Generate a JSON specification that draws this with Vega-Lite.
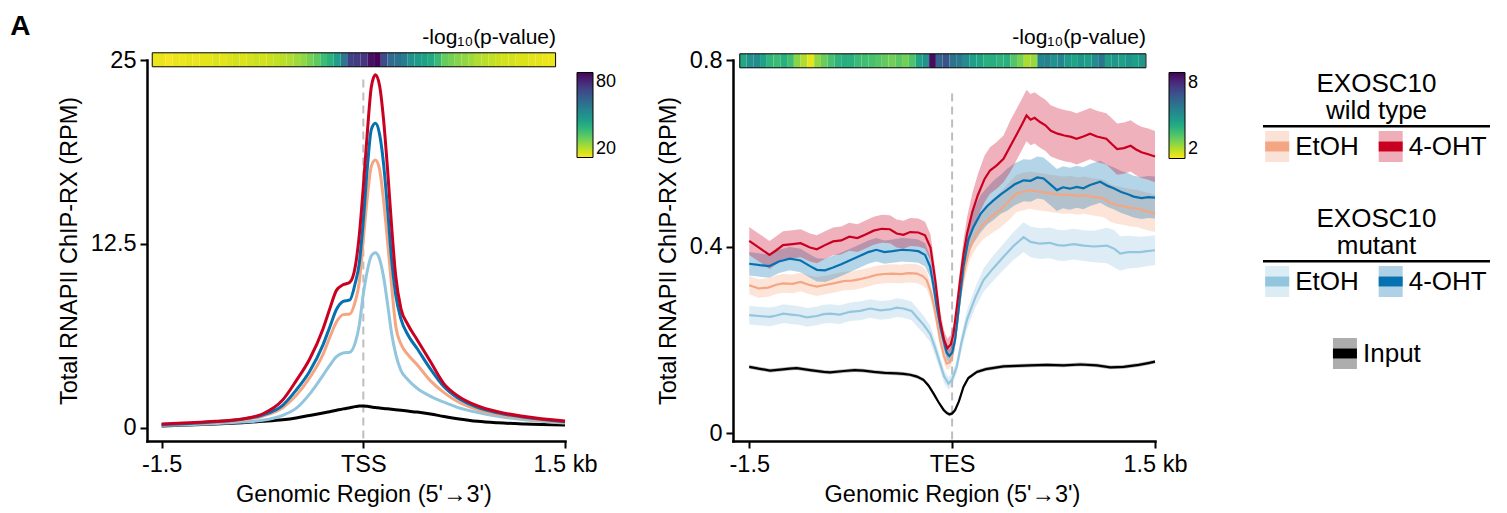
{
"$schema": "https://vega.github.io/schema/vega-lite/v6.json",
"background": "white",
"padding": {"left": 10, "top": 12, "right": 5, "bottom": 5},
"title": {"text": "A", "anchor": "start", "frame": "bounds", "fontSize": 28, "fontWeight": "bold", "dx": -47, "offset": -13.5, "color": "#000"},
"config": {
  "font": "Liberation Sans",
  "view": {"stroke": null},
  "axis": {"domainColor": "#000", "domainWidth": 2.5, "domainCap": "square", "tickColor": "#000", "tickWidth": 2, "tickSize": 7, "labelColor": "#000", "labelFontSize": 23.5, "titleColor": "#000", "titleFontSize": 23.5, "titleFontWeight": "normal", "grid": false, "labelPadding": 4, "titlePadding": 7, "labelFlush": false},
  "axisY": {"titlePadding": 9},
  "legend": {"labelColor": "#000", "labelFontSize": 18, "gradientStrokeColor": "#000", "gradientStrokeWidth": 1},
  "title": {"color": "#000", "fontWeight": "normal"},
  "text": {"color": "#000"}
},
"datasets": {
  "heatL": [
    {"start":-1.57,"end":-1.52,"p":14},{"start":-1.52,"end":-1.47,"p":14},{"start":-1.47,"end":-1.42,"p":13},{"start":-1.42,"end":-1.37,"p":14},{"start":-1.37,"end":-1.32,"p":14},
    {"start":-1.32,"end":-1.27,"p":15},{"start":-1.27,"end":-1.22,"p":14},{"start":-1.22,"end":-1.17,"p":15},{"start":-1.17,"end":-1.12,"p":15},{"start":-1.12,"end":-1.07,"p":16},
    {"start":-1.07,"end":-1.02,"p":15},{"start":-1.02,"end":-0.97,"p":16},{"start":-0.97,"end":-0.92,"p":17},{"start":-0.92,"end":-0.87,"p":16},{"start":-0.87,"end":-0.82,"p":17},
    {"start":-0.82,"end":-0.77,"p":18},{"start":-0.77,"end":-0.72,"p":17},{"start":-0.72,"end":-0.67,"p":18},{"start":-0.67,"end":-0.62,"p":19},{"start":-0.62,"end":-0.57,"p":20},
    {"start":-0.57,"end":-0.52,"p":21},{"start":-0.52,"end":-0.47,"p":23},{"start":-0.47,"end":-0.42,"p":25},{"start":-0.42,"end":-0.37,"p":28},{"start":-0.37,"end":-0.32,"p":31},
    {"start":-0.32,"end":-0.27,"p":36},{"start":-0.27,"end":-0.22,"p":40},{"start":-0.22,"end":-0.17,"p":46},{"start":-0.17,"end":-0.12,"p":58},{"start":-0.12,"end":-0.07,"p":74},
    {"start":-0.07,"end":-0.02,"p":76},{"start":-0.02,"end":0.03,"p":77},{"start":0.03,"end":0.08,"p":86},{"start":0.08,"end":0.13,"p":88},{"start":0.13,"end":0.18,"p":72},
    {"start":0.18,"end":0.23,"p":62},{"start":0.23,"end":0.28,"p":60},{"start":0.28,"end":0.33,"p":57},{"start":0.33,"end":0.38,"p":50},{"start":0.38,"end":0.43,"p":47},
    {"start":0.43,"end":0.48,"p":45},{"start":0.48,"end":0.53,"p":42},{"start":0.53,"end":0.58,"p":37},{"start":0.58,"end":0.63,"p":30},{"start":0.63,"end":0.68,"p":28},
    {"start":0.68,"end":0.73,"p":26},{"start":0.73,"end":0.78,"p":25},{"start":0.78,"end":0.83,"p":23},{"start":0.83,"end":0.88,"p":21},{"start":0.88,"end":0.93,"p":20},
    {"start":0.93,"end":0.98,"p":19},{"start":0.98,"end":1.03,"p":18},{"start":1.03,"end":1.08,"p":17},{"start":1.08,"end":1.13,"p":17},{"start":1.13,"end":1.18,"p":16},
    {"start":1.18,"end":1.23,"p":16},{"start":1.23,"end":1.28,"p":15},{"start":1.28,"end":1.33,"p":15},{"start":1.33,"end":1.38,"p":14},{"start":1.38,"end":1.43,"p":14}
  ],
  "heatR": [
    {"start":-1.57,"end":-1.52,"p":4.3},{"start":-1.52,"end":-1.47,"p":5.0},{"start":-1.47,"end":-1.42,"p":5.2},{"start":-1.42,"end":-1.37,"p":4.5},{"start":-1.37,"end":-1.32,"p":3.8},
    {"start":-1.32,"end":-1.27,"p":3.6},{"start":-1.27,"end":-1.22,"p":4.0},{"start":-1.22,"end":-1.17,"p":3.5},{"start":-1.17,"end":-1.12,"p":2.5},{"start":-1.12,"end":-1.07,"p":2.0},
    {"start":-1.07,"end":-1.02,"p":1.4},{"start":-1.02,"end":-0.97,"p":2.4},{"start":-0.97,"end":-0.92,"p":2.9},{"start":-0.92,"end":-0.87,"p":3.4},{"start":-0.87,"end":-0.82,"p":3.9},
    {"start":-0.82,"end":-0.77,"p":4.1},{"start":-0.77,"end":-0.72,"p":4.0},{"start":-0.72,"end":-0.67,"p":3.6},{"start":-0.67,"end":-0.62,"p":3.5},{"start":-0.62,"end":-0.57,"p":3.4},
    {"start":-0.57,"end":-0.52,"p":3.2},{"start":-0.52,"end":-0.47,"p":3.0},{"start":-0.47,"end":-0.42,"p":2.8},{"start":-0.42,"end":-0.37,"p":3.1},{"start":-0.37,"end":-0.32,"p":2.8},
    {"start":-0.32,"end":-0.27,"p":3.3},{"start":-0.27,"end":-0.22,"p":4.4},{"start":-0.22,"end":-0.17,"p":5.0},{"start":-0.17,"end":-0.12,"p":8.8},{"start":-0.12,"end":-0.07,"p":6.5},
    {"start":-0.07,"end":-0.02,"p":7.0},{"start":-0.02,"end":0.03,"p":6.0},{"start":0.03,"end":0.08,"p":5.8},{"start":0.08,"end":0.13,"p":5.2},{"start":0.13,"end":0.18,"p":4.6},
    {"start":0.18,"end":0.23,"p":4.4},{"start":0.23,"end":0.28,"p":4.0},{"start":0.28,"end":0.33,"p":4.1},{"start":0.33,"end":0.38,"p":3.9},{"start":0.38,"end":0.43,"p":4.0},
    {"start":0.43,"end":0.48,"p":3.2},{"start":0.48,"end":0.53,"p":2.7},{"start":0.53,"end":0.58,"p":2.1},{"start":0.58,"end":0.63,"p":2.3},{"start":0.63,"end":0.68,"p":5.3},
    {"start":0.68,"end":0.73,"p":5.5},{"start":0.73,"end":0.78,"p":5.0},{"start":0.78,"end":0.83,"p":5.4},{"start":0.83,"end":0.88,"p":4.7},{"start":0.88,"end":0.93,"p":4.4},
    {"start":0.93,"end":0.98,"p":4.8},{"start":0.98,"end":1.03,"p":4.5},{"start":1.03,"end":1.08,"p":5.2},{"start":1.08,"end":1.13,"p":5.9},{"start":1.13,"end":1.18,"p":4.6},
    {"start":1.18,"end":1.23,"p":4.8},{"start":1.23,"end":1.28,"p":4.5},{"start":1.28,"end":1.33,"p":4.9},{"start":1.33,"end":1.38,"p":4.6},{"start":1.38,"end":1.43,"p":4.8}
  ],
  "tss": [
    {"s":"Input","x":-1.5,"y":0.14},{"s":"Input","x":-1.3,"y":0.2},{"s":"Input","x":-1.1,"y":0.27},{"s":"Input","x":-0.9,"y":0.36},{"s":"Input","x":-0.75,"y":0.45},{"s":"Input","x":-0.6,"y":0.56},{"s":"Input","x":-0.5,"y":0.68},{"s":"Input","x":-0.4,"y":0.85},{"s":"Input","x":-0.3,"y":1.02},{"s":"Input","x":-0.25,"y":1.1},{"s":"Input","x":-0.2,"y":1.2},{"s":"Input","x":-0.15,"y":1.3},{"s":"Input","x":-0.1,"y":1.38},{"s":"Input","x":-0.06,"y":1.45},{"s":"Input","x":-0.03,"y":1.49},{"s":"Input","x":0,"y":1.5},{"s":"Input","x":0.03,"y":1.47},{"s":"Input","x":0.06,"y":1.43},{"s":"Input","x":0.09,"y":1.39},{"s":"Input","x":0.12,"y":1.36},{"s":"Input","x":0.15,"y":1.33},{"s":"Input","x":0.18,"y":1.3},{"s":"Input","x":0.21,"y":1.27},{"s":"Input","x":0.24,"y":1.24},{"s":"Input","x":0.28,"y":1.2},{"s":"Input","x":0.33,"y":1.15},{"s":"Input","x":0.4,"y":1.08},{"s":"Input","x":0.5,"y":0.95},{"s":"Input","x":0.6,"y":0.78},{"s":"Input","x":0.7,"y":0.63},{"s":"Input","x":0.85,"y":0.45},{"s":"Input","x":1.0,"y":0.35},{"s":"Input","x":1.2,"y":0.27},{"s":"Input","x":1.5,"y":0.2},
    {"s":"MUT EtOH","x":-1.5,"y":0.18},{"s":"MUT EtOH","x":-1.3,"y":0.22},{"s":"MUT EtOH","x":-1.1,"y":0.3},{"s":"MUT EtOH","x":-0.9,"y":0.4},{"s":"MUT EtOH","x":-0.75,"y":0.52},{"s":"MUT EtOH","x":-0.6,"y":0.86},{"s":"MUT EtOH","x":-0.5,"y":1.33},{"s":"MUT EtOH","x":-0.4,"y":2.3},{"s":"MUT EtOH","x":-0.3,"y":3.58},{"s":"MUT EtOH","x":-0.25,"y":4.25},{"s":"MUT EtOH","x":-0.2,"y":4.85},{"s":"MUT EtOH","x":-0.15,"y":5.1},{"s":"MUT EtOH","x":-0.1,"y":5.15},{"s":"MUT EtOH","x":-0.06,"y":5.8},{"s":"MUT EtOH","x":-0.03,"y":7.0},{"s":"MUT EtOH","x":0,"y":9.1},{"s":"MUT EtOH","x":0.03,"y":10.7},{"s":"MUT EtOH","x":0.06,"y":11.7},{"s":"MUT EtOH","x":0.09,"y":11.9},{"s":"MUT EtOH","x":0.12,"y":11.5},{"s":"MUT EtOH","x":0.15,"y":10.3},{"s":"MUT EtOH","x":0.18,"y":8.45},{"s":"MUT EtOH","x":0.21,"y":6.45},{"s":"MUT EtOH","x":0.24,"y":5.05},{"s":"MUT EtOH","x":0.28,"y":3.9},{"s":"MUT EtOH","x":0.33,"y":3.3},{"s":"MUT EtOH","x":0.4,"y":2.7},{"s":"MUT EtOH","x":0.5,"y":2.15},{"s":"MUT EtOH","x":0.6,"y":1.75},{"s":"MUT EtOH","x":0.7,"y":1.4},{"s":"MUT EtOH","x":0.85,"y":1.05},{"s":"MUT EtOH","x":1.0,"y":0.8},{"s":"MUT EtOH","x":1.2,"y":0.56},{"s":"MUT EtOH","x":1.5,"y":0.33},
    {"s":"WT EtOH","x":-1.5,"y":0.22},{"s":"WT EtOH","x":-1.3,"y":0.28},{"s":"WT EtOH","x":-1.1,"y":0.38},{"s":"WT EtOH","x":-0.9,"y":0.55},{"s":"WT EtOH","x":-0.75,"y":0.8},{"s":"WT EtOH","x":-0.6,"y":1.38},{"s":"WT EtOH","x":-0.5,"y":2.2},{"s":"WT EtOH","x":-0.4,"y":3.4},{"s":"WT EtOH","x":-0.3,"y":5.0},{"s":"WT EtOH","x":-0.25,"y":6.15},{"s":"WT EtOH","x":-0.2,"y":7.2},{"s":"WT EtOH","x":-0.15,"y":7.7},{"s":"WT EtOH","x":-0.1,"y":7.75},{"s":"WT EtOH","x":-0.06,"y":8.6},{"s":"WT EtOH","x":-0.03,"y":9.9},{"s":"WT EtOH","x":0,"y":12.8},{"s":"WT EtOH","x":0.03,"y":15.7},{"s":"WT EtOH","x":0.06,"y":17.8},{"s":"WT EtOH","x":0.09,"y":18.2},{"s":"WT EtOH","x":0.12,"y":17.6},{"s":"WT EtOH","x":0.15,"y":15.5},{"s":"WT EtOH","x":0.18,"y":12.7},{"s":"WT EtOH","x":0.21,"y":9.7},{"s":"WT EtOH","x":0.24,"y":7.0},{"s":"WT EtOH","x":0.28,"y":5.7},{"s":"WT EtOH","x":0.33,"y":5.0},{"s":"WT EtOH","x":0.4,"y":4.3},{"s":"WT EtOH","x":0.5,"y":3.2},{"s":"WT EtOH","x":0.6,"y":2.4},{"s":"WT EtOH","x":0.7,"y":1.8},{"s":"WT EtOH","x":0.85,"y":1.25},{"s":"WT EtOH","x":1.0,"y":0.93},{"s":"WT EtOH","x":1.2,"y":0.65},{"s":"WT EtOH","x":1.5,"y":0.38},
    {"s":"MUT 4-OHT","x":-1.5,"y":0.24},{"s":"MUT 4-OHT","x":-1.3,"y":0.3},{"s":"MUT 4-OHT","x":-1.1,"y":0.42},{"s":"MUT 4-OHT","x":-0.9,"y":0.6},{"s":"MUT 4-OHT","x":-0.75,"y":0.88},{"s":"MUT 4-OHT","x":-0.6,"y":1.54},{"s":"MUT 4-OHT","x":-0.5,"y":2.57},{"s":"MUT 4-OHT","x":-0.4,"y":3.84},{"s":"MUT 4-OHT","x":-0.3,"y":5.65},{"s":"MUT 4-OHT","x":-0.25,"y":6.85},{"s":"MUT 4-OHT","x":-0.2,"y":8.05},{"s":"MUT 4-OHT","x":-0.15,"y":8.6},{"s":"MUT 4-OHT","x":-0.1,"y":8.7},{"s":"MUT 4-OHT","x":-0.06,"y":9.85},{"s":"MUT 4-OHT","x":-0.03,"y":11.2},{"s":"MUT 4-OHT","x":0,"y":14.1},{"s":"MUT 4-OHT","x":0.03,"y":17.7},{"s":"MUT 4-OHT","x":0.06,"y":20.3},{"s":"MUT 4-OHT","x":0.09,"y":20.7},{"s":"MUT 4-OHT","x":0.12,"y":20.0},{"s":"MUT 4-OHT","x":0.15,"y":18.0},{"s":"MUT 4-OHT","x":0.18,"y":14.9},{"s":"MUT 4-OHT","x":0.21,"y":11.5},{"s":"MUT 4-OHT","x":0.24,"y":9.1},{"s":"MUT 4-OHT","x":0.28,"y":7.4},{"s":"MUT 4-OHT","x":0.33,"y":6.35},{"s":"MUT 4-OHT","x":0.4,"y":5.4},{"s":"MUT 4-OHT","x":0.5,"y":4.0},{"s":"MUT 4-OHT","x":0.6,"y":2.8},{"s":"MUT 4-OHT","x":0.7,"y":2.05},{"s":"MUT 4-OHT","x":0.85,"y":1.4},{"s":"MUT 4-OHT","x":1.0,"y":1.03},{"s":"MUT 4-OHT","x":1.2,"y":0.72},{"s":"MUT 4-OHT","x":1.5,"y":0.43},
    {"s":"WT 4-OHT","x":-1.5,"y":0.27},{"s":"WT 4-OHT","x":-1.3,"y":0.35},{"s":"WT 4-OHT","x":-1.1,"y":0.45},{"s":"WT 4-OHT","x":-0.9,"y":0.62},{"s":"WT 4-OHT","x":-0.75,"y":0.95},{"s":"WT 4-OHT","x":-0.6,"y":1.9},{"s":"WT 4-OHT","x":-0.5,"y":3.2},{"s":"WT 4-OHT","x":-0.4,"y":4.67},{"s":"WT 4-OHT","x":-0.3,"y":6.73},{"s":"WT 4-OHT","x":-0.25,"y":8.08},{"s":"WT 4-OHT","x":-0.2,"y":9.35},{"s":"WT 4-OHT","x":-0.15,"y":9.73},{"s":"WT 4-OHT","x":-0.1,"y":9.9},{"s":"WT 4-OHT","x":-0.06,"y":10.97},{"s":"WT 4-OHT","x":-0.03,"y":13.1},{"s":"WT 4-OHT","x":0,"y":16.4},{"s":"WT 4-OHT","x":0.03,"y":20.1},{"s":"WT 4-OHT","x":0.06,"y":23.2},{"s":"WT 4-OHT","x":0.09,"y":24.0},{"s":"WT 4-OHT","x":0.12,"y":23.3},{"s":"WT 4-OHT","x":0.15,"y":21.0},{"s":"WT 4-OHT","x":0.18,"y":17.6},{"s":"WT 4-OHT","x":0.21,"y":13.75},{"s":"WT 4-OHT","x":0.24,"y":10.4},{"s":"WT 4-OHT","x":0.28,"y":8.1},{"s":"WT 4-OHT","x":0.33,"y":7.05},{"s":"WT 4-OHT","x":0.4,"y":6.0},{"s":"WT 4-OHT","x":0.5,"y":4.5},{"s":"WT 4-OHT","x":0.6,"y":3.0},{"s":"WT 4-OHT","x":0.7,"y":2.2},{"s":"WT 4-OHT","x":0.85,"y":1.5},{"s":"WT 4-OHT","x":1.0,"y":1.1},{"s":"WT 4-OHT","x":1.2,"y":0.78},{"s":"WT 4-OHT","x":1.5,"y":0.47}
  ],
  "tes": [
    {"s":"Input","x":-1.5,"y":0.142,"lo":0.138,"hi":0.146},{"s":"Input","x":-1.43,"y":0.138,"lo":0.134,"hi":0.142},{"s":"Input","x":-1.346,"y":0.134,"lo":0.13,"hi":0.138},{"s":"Input","x":-1.27,"y":0.136,"lo":0.132,"hi":0.14},{"s":"Input","x":-1.2,"y":0.138,"lo":0.134,"hi":0.142},{"s":"Input","x":-1.149,"y":0.139,"lo":0.135,"hi":0.143},{"s":"Input","x":-1.05,"y":0.135,"lo":0.131,"hi":0.139},{"s":"Input","x":-0.95,"y":0.131,"lo":0.127,"hi":0.135},{"s":"Input","x":-0.902,"y":0.13,"lo":0.126,"hi":0.134},{"s":"Input","x":-0.8,"y":0.133,"lo":0.129,"hi":0.137},{"s":"Input","x":-0.72,"y":0.135,"lo":0.131,"hi":0.139},{"s":"Input","x":-0.656,"y":0.134,"lo":0.13,"hi":0.138},{"s":"Input","x":-0.58,"y":0.131,"lo":0.127,"hi":0.135},{"s":"Input","x":-0.5,"y":0.129,"lo":0.125,"hi":0.133},{"s":"Input","x":-0.41,"y":0.128,"lo":0.124,"hi":0.132},{"s":"Input","x":-0.36,"y":0.127,"lo":0.123,"hi":0.131},{"s":"Input","x":-0.311,"y":0.125,"lo":0.121,"hi":0.129},{"s":"Input","x":-0.26,"y":0.121,"lo":0.117,"hi":0.125},{"s":"Input","x":-0.212,"y":0.114,"lo":0.11,"hi":0.118},{"s":"Input","x":-0.175,"y":0.102,"lo":0.098,"hi":0.106},{"s":"Input","x":-0.138,"y":0.085,"lo":0.081,"hi":0.089},{"s":"Input","x":-0.1,"y":0.066,"lo":0.062,"hi":0.07},{"s":"Input","x":-0.064,"y":0.05,"lo":0.046,"hi":0.054},{"s":"Input","x":-0.04,"y":0.043,"lo":0.039,"hi":0.047},{"s":"Input","x":-0.02,"y":0.04,"lo":0.036,"hi":0.044},{"s":"Input","x":0,"y":0.042,"lo":0.038,"hi":0.046},{"s":"Input","x":0.022,"y":0.049,"lo":0.045,"hi":0.053},{"s":"Input","x":0.05,"y":0.068,"lo":0.064,"hi":0.072},{"s":"Input","x":0.084,"y":0.099,"lo":0.095,"hi":0.103},{"s":"Input","x":0.12,"y":0.118,"lo":0.114,"hi":0.122},{"s":"Input","x":0.183,"y":0.131,"lo":0.127,"hi":0.135},{"s":"Input","x":0.25,"y":0.137,"lo":0.133,"hi":0.141},{"s":"Input","x":0.38,"y":0.143,"lo":0.139,"hi":0.147},{"s":"Input","x":0.48,"y":0.144,"lo":0.14,"hi":0.148},{"s":"Input","x":0.577,"y":0.145,"lo":0.141,"hi":0.149},{"s":"Input","x":0.7,"y":0.146,"lo":0.142,"hi":0.15},{"s":"Input","x":0.824,"y":0.145,"lo":0.141,"hi":0.149},{"s":"Input","x":0.95,"y":0.147,"lo":0.143,"hi":0.151},{"s":"Input","x":1.07,"y":0.145,"lo":0.141,"hi":0.149},{"s":"Input","x":1.17,"y":0.141,"lo":0.137,"hi":0.145},{"s":"Input","x":1.268,"y":0.142,"lo":0.138,"hi":0.146},{"s":"Input","x":1.38,"y":0.146,"lo":0.142,"hi":0.15},{"s":"Input","x":1.45,"y":0.15,"lo":0.146,"hi":0.154},{"s":"Input","x":1.5,"y":0.153,"lo":0.149,"hi":0.157},
    {"s":"MUT EtOH","x":-1.5,"y":0.253,"lo":0.233,"hi":0.273},{"s":"MUT EtOH","x":-1.43,"y":0.251,"lo":0.231,"hi":0.271},{"s":"MUT EtOH","x":-1.346,"y":0.249,"lo":0.229,"hi":0.269},{"s":"MUT EtOH","x":-1.3,"y":0.252,"lo":0.232,"hi":0.272},{"s":"MUT EtOH","x":-1.248,"y":0.256,"lo":0.236,"hi":0.276},{"s":"MUT EtOH","x":-1.19,"y":0.254,"lo":0.234,"hi":0.274},{"s":"MUT EtOH","x":-1.13,"y":0.252,"lo":0.232,"hi":0.272},{"s":"MUT EtOH","x":-1.075,"y":0.248,"lo":0.228,"hi":0.268},{"s":"MUT EtOH","x":-1.0,"y":0.251,"lo":0.231,"hi":0.271},{"s":"MUT EtOH","x":-0.95,"y":0.255,"lo":0.235,"hi":0.275},{"s":"MUT EtOH","x":-0.902,"y":0.256,"lo":0.236,"hi":0.276},{"s":"MUT EtOH","x":-0.83,"y":0.254,"lo":0.234,"hi":0.274},{"s":"MUT EtOH","x":-0.754,"y":0.26,"lo":0.24,"hi":0.28},{"s":"MUT EtOH","x":-0.68,"y":0.262,"lo":0.242,"hi":0.282},{"s":"MUT EtOH","x":-0.606,"y":0.267,"lo":0.247,"hi":0.287},{"s":"MUT EtOH","x":-0.53,"y":0.263,"lo":0.243,"hi":0.283},{"s":"MUT EtOH","x":-0.459,"y":0.265,"lo":0.245,"hi":0.285},{"s":"MUT EtOH","x":-0.41,"y":0.269,"lo":0.249,"hi":0.289},{"s":"MUT EtOH","x":-0.36,"y":0.267,"lo":0.247,"hi":0.287},{"s":"MUT EtOH","x":-0.3,"y":0.262,"lo":0.242,"hi":0.282},{"s":"MUT EtOH","x":-0.262,"y":0.249,"lo":0.229,"hi":0.269},{"s":"MUT EtOH","x":-0.21,"y":0.232,"lo":0.213,"hi":0.251},{"s":"MUT EtOH","x":-0.163,"y":0.213,"lo":0.195,"hi":0.231},{"s":"MUT EtOH","x":-0.125,"y":0.182,"lo":0.165,"hi":0.199},{"s":"MUT EtOH","x":-0.089,"y":0.149,"lo":0.134,"hi":0.164},{"s":"MUT EtOH","x":-0.06,"y":0.122,"lo":0.108,"hi":0.136},{"s":"MUT EtOH","x":-0.027,"y":0.106,"lo":0.093,"hi":0.119},{"s":"MUT EtOH","x":0,"y":0.115,"lo":0.102,"hi":0.128},{"s":"MUT EtOH","x":0.034,"y":0.142,"lo":0.128,"hi":0.156},{"s":"MUT EtOH","x":0.07,"y":0.195,"lo":0.178,"hi":0.212},{"s":"MUT EtOH","x":0.109,"y":0.242,"lo":0.222,"hi":0.262},{"s":"MUT EtOH","x":0.17,"y":0.29,"lo":0.268,"hi":0.312},{"s":"MUT EtOH","x":0.232,"y":0.328,"lo":0.303,"hi":0.353},{"s":"MUT EtOH","x":0.3,"y":0.352,"lo":0.325,"hi":0.379},{"s":"MUT EtOH","x":0.38,"y":0.378,"lo":0.35,"hi":0.406},{"s":"MUT EtOH","x":0.45,"y":0.4,"lo":0.37,"hi":0.43},{"s":"MUT EtOH","x":0.528,"y":0.42,"lo":0.388,"hi":0.452},{"s":"MUT EtOH","x":0.58,"y":0.41,"lo":0.377,"hi":0.443},{"s":"MUT EtOH","x":0.651,"y":0.406,"lo":0.373,"hi":0.439},{"s":"MUT EtOH","x":0.72,"y":0.408,"lo":0.375,"hi":0.441},{"s":"MUT EtOH","x":0.78,"y":0.403,"lo":0.37,"hi":0.436},{"s":"MUT EtOH","x":0.824,"y":0.402,"lo":0.369,"hi":0.435},{"s":"MUT EtOH","x":0.9,"y":0.405,"lo":0.372,"hi":0.438},{"s":"MUT EtOH","x":0.972,"y":0.402,"lo":0.369,"hi":0.435},{"s":"MUT EtOH","x":1.05,"y":0.4,"lo":0.366,"hi":0.434},{"s":"MUT EtOH","x":1.144,"y":0.402,"lo":0.364,"hi":0.44},{"s":"MUT EtOH","x":1.2,"y":0.395,"lo":0.355,"hi":0.435},{"s":"MUT EtOH","x":1.243,"y":0.385,"lo":0.348,"hi":0.422},{"s":"MUT EtOH","x":1.3,"y":0.388,"lo":0.353,"hi":0.423},{"s":"MUT EtOH","x":1.391,"y":0.388,"lo":0.355,"hi":0.421},{"s":"MUT EtOH","x":1.44,"y":0.39,"lo":0.358,"hi":0.422},{"s":"MUT EtOH","x":1.5,"y":0.392,"lo":0.36,"hi":0.424},
    {"s":"WT EtOH","x":-1.5,"y":0.317,"lo":0.297,"hi":0.337},{"s":"WT EtOH","x":-1.43,"y":0.31,"lo":0.29,"hi":0.33},{"s":"WT EtOH","x":-1.36,"y":0.312,"lo":0.292,"hi":0.332},{"s":"WT EtOH","x":-1.3,"y":0.318,"lo":0.298,"hi":0.338},{"s":"WT EtOH","x":-1.25,"y":0.321,"lo":0.301,"hi":0.341},{"s":"WT EtOH","x":-1.18,"y":0.32,"lo":0.3,"hi":0.34},{"s":"WT EtOH","x":-1.12,"y":0.324,"lo":0.304,"hi":0.344},{"s":"WT EtOH","x":-1.06,"y":0.318,"lo":0.298,"hi":0.338},{"s":"WT EtOH","x":-1.0,"y":0.314,"lo":0.294,"hi":0.334},{"s":"WT EtOH","x":-0.93,"y":0.318,"lo":0.298,"hi":0.338},{"s":"WT EtOH","x":-0.86,"y":0.322,"lo":0.302,"hi":0.342},{"s":"WT EtOH","x":-0.8,"y":0.326,"lo":0.306,"hi":0.346},{"s":"WT EtOH","x":-0.74,"y":0.327,"lo":0.307,"hi":0.347},{"s":"WT EtOH","x":-0.68,"y":0.33,"lo":0.31,"hi":0.35},{"s":"WT EtOH","x":-0.62,"y":0.334,"lo":0.314,"hi":0.354},{"s":"WT EtOH","x":-0.56,"y":0.339,"lo":0.319,"hi":0.359},{"s":"WT EtOH","x":-0.5,"y":0.341,"lo":0.321,"hi":0.361},{"s":"WT EtOH","x":-0.44,"y":0.342,"lo":0.322,"hi":0.362},{"s":"WT EtOH","x":-0.38,"y":0.341,"lo":0.321,"hi":0.361},{"s":"WT EtOH","x":-0.32,"y":0.343,"lo":0.323,"hi":0.363},{"s":"WT EtOH","x":-0.26,"y":0.342,"lo":0.322,"hi":0.362},{"s":"WT EtOH","x":-0.215,"y":0.336,"lo":0.316,"hi":0.356},{"s":"WT EtOH","x":-0.188,"y":0.328,"lo":0.309,"hi":0.347},{"s":"WT EtOH","x":-0.16,"y":0.305,"lo":0.287,"hi":0.323},{"s":"WT EtOH","x":-0.138,"y":0.278,"lo":0.261,"hi":0.295},{"s":"WT EtOH","x":-0.11,"y":0.235,"lo":0.219,"hi":0.251},{"s":"WT EtOH","x":-0.089,"y":0.2,"lo":0.185,"hi":0.215},{"s":"WT EtOH","x":-0.06,"y":0.165,"lo":0.151,"hi":0.179},{"s":"WT EtOH","x":-0.04,"y":0.149,"lo":0.135,"hi":0.163},{"s":"WT EtOH","x":-0.015,"y":0.152,"lo":0.138,"hi":0.166},{"s":"WT EtOH","x":0.01,"y":0.178,"lo":0.163,"hi":0.193},{"s":"WT EtOH","x":0.035,"y":0.23,"lo":0.213,"hi":0.247},{"s":"WT EtOH","x":0.059,"y":0.292,"lo":0.272,"hi":0.312},{"s":"WT EtOH","x":0.095,"y":0.355,"lo":0.332,"hi":0.378},{"s":"WT EtOH","x":0.133,"y":0.399,"lo":0.372,"hi":0.426},{"s":"WT EtOH","x":0.18,"y":0.428,"lo":0.398,"hi":0.458},{"s":"WT EtOH","x":0.232,"y":0.449,"lo":0.416,"hi":0.482},{"s":"WT EtOH","x":0.29,"y":0.463,"lo":0.428,"hi":0.498},{"s":"WT EtOH","x":0.355,"y":0.478,"lo":0.44,"hi":0.516},{"s":"WT EtOH","x":0.42,"y":0.497,"lo":0.457,"hi":0.537},{"s":"WT EtOH","x":0.478,"y":0.514,"lo":0.474,"hi":0.554},{"s":"WT EtOH","x":0.53,"y":0.518,"lo":0.478,"hi":0.558},{"s":"WT EtOH","x":0.577,"y":0.521,"lo":0.481,"hi":0.561},{"s":"WT EtOH","x":0.63,"y":0.518,"lo":0.478,"hi":0.558},{"s":"WT EtOH","x":0.68,"y":0.516,"lo":0.476,"hi":0.556},{"s":"WT EtOH","x":0.725,"y":0.514,"lo":0.474,"hi":0.554},{"s":"WT EtOH","x":0.78,"y":0.512,"lo":0.472,"hi":0.552},{"s":"WT EtOH","x":0.824,"y":0.51,"lo":0.47,"hi":0.55},{"s":"WT EtOH","x":0.88,"y":0.511,"lo":0.471,"hi":0.551},{"s":"WT EtOH","x":0.93,"y":0.508,"lo":0.468,"hi":0.548},{"s":"WT EtOH","x":0.972,"y":0.51,"lo":0.47,"hi":0.55},{"s":"WT EtOH","x":1.03,"y":0.507,"lo":0.467,"hi":0.547},{"s":"WT EtOH","x":1.08,"y":0.505,"lo":0.465,"hi":0.545},{"s":"WT EtOH","x":1.12,"y":0.503,"lo":0.463,"hi":0.543},{"s":"WT EtOH","x":1.17,"y":0.493,"lo":0.453,"hi":0.533},{"s":"WT EtOH","x":1.218,"y":0.489,"lo":0.449,"hi":0.529},{"s":"WT EtOH","x":1.27,"y":0.486,"lo":0.446,"hi":0.526},{"s":"WT EtOH","x":1.32,"y":0.483,"lo":0.443,"hi":0.523},{"s":"WT EtOH","x":1.366,"y":0.482,"lo":0.442,"hi":0.522},{"s":"WT EtOH","x":1.42,"y":0.477,"lo":0.437,"hi":0.517},{"s":"WT EtOH","x":1.46,"y":0.474,"lo":0.434,"hi":0.514},{"s":"WT EtOH","x":1.5,"y":0.471,"lo":0.431,"hi":0.511},
    {"s":"MUT 4-OHT","x":-1.5,"y":0.363,"lo":0.338,"hi":0.388},{"s":"MUT 4-OHT","x":-1.42,"y":0.36,"lo":0.335,"hi":0.385},{"s":"MUT 4-OHT","x":-1.35,"y":0.358,"lo":0.333,"hi":0.383},{"s":"MUT 4-OHT","x":-1.28,"y":0.368,"lo":0.343,"hi":0.393},{"s":"MUT 4-OHT","x":-1.2,"y":0.374,"lo":0.349,"hi":0.399},{"s":"MUT 4-OHT","x":-1.12,"y":0.37,"lo":0.345,"hi":0.395},{"s":"MUT 4-OHT","x":-1.05,"y":0.358,"lo":0.333,"hi":0.383},{"s":"MUT 4-OHT","x":-1.0,"y":0.35,"lo":0.325,"hi":0.375},{"s":"MUT 4-OHT","x":-0.94,"y":0.349,"lo":0.324,"hi":0.374},{"s":"MUT 4-OHT","x":-0.88,"y":0.355,"lo":0.33,"hi":0.38},{"s":"MUT 4-OHT","x":-0.82,"y":0.362,"lo":0.337,"hi":0.387},{"s":"MUT 4-OHT","x":-0.75,"y":0.371,"lo":0.346,"hi":0.396},{"s":"MUT 4-OHT","x":-0.68,"y":0.38,"lo":0.355,"hi":0.405},{"s":"MUT 4-OHT","x":-0.62,"y":0.388,"lo":0.363,"hi":0.413},{"s":"MUT 4-OHT","x":-0.56,"y":0.393,"lo":0.368,"hi":0.418},{"s":"MUT 4-OHT","x":-0.5,"y":0.388,"lo":0.363,"hi":0.413},{"s":"MUT 4-OHT","x":-0.44,"y":0.39,"lo":0.365,"hi":0.415},{"s":"MUT 4-OHT","x":-0.37,"y":0.393,"lo":0.368,"hi":0.418},{"s":"MUT 4-OHT","x":-0.31,"y":0.392,"lo":0.367,"hi":0.417},{"s":"MUT 4-OHT","x":-0.25,"y":0.39,"lo":0.365,"hi":0.415},{"s":"MUT 4-OHT","x":-0.2,"y":0.382,"lo":0.357,"hi":0.407},{"s":"MUT 4-OHT","x":-0.163,"y":0.357,"lo":0.334,"hi":0.38},{"s":"MUT 4-OHT","x":-0.14,"y":0.32,"lo":0.3,"hi":0.34},{"s":"MUT 4-OHT","x":-0.114,"y":0.271,"lo":0.251,"hi":0.291},{"s":"MUT 4-OHT","x":-0.085,"y":0.225,"lo":0.207,"hi":0.243},{"s":"MUT 4-OHT","x":-0.064,"y":0.2,"lo":0.183,"hi":0.217},{"s":"MUT 4-OHT","x":-0.04,"y":0.172,"lo":0.157,"hi":0.187},{"s":"MUT 4-OHT","x":-0.02,"y":0.165,"lo":0.15,"hi":0.18},{"s":"MUT 4-OHT","x":0,"y":0.172,"lo":0.157,"hi":0.187},{"s":"MUT 4-OHT","x":0.022,"y":0.2,"lo":0.183,"hi":0.217},{"s":"MUT 4-OHT","x":0.05,"y":0.27,"lo":0.25,"hi":0.29},{"s":"MUT 4-OHT","x":0.084,"y":0.357,"lo":0.332,"hi":0.382},{"s":"MUT 4-OHT","x":0.12,"y":0.415,"lo":0.385,"hi":0.445},{"s":"MUT 4-OHT","x":0.158,"y":0.442,"lo":0.407,"hi":0.477},{"s":"MUT 4-OHT","x":0.21,"y":0.47,"lo":0.43,"hi":0.51},{"s":"MUT 4-OHT","x":0.26,"y":0.487,"lo":0.447,"hi":0.527},{"s":"MUT 4-OHT","x":0.31,"y":0.5,"lo":0.458,"hi":0.542},{"s":"MUT 4-OHT","x":0.36,"y":0.512,"lo":0.47,"hi":0.554},{"s":"MUT 4-OHT","x":0.404,"y":0.521,"lo":0.476,"hi":0.566},{"s":"MUT 4-OHT","x":0.46,"y":0.533,"lo":0.488,"hi":0.578},{"s":"MUT 4-OHT","x":0.528,"y":0.542,"lo":0.497,"hi":0.587},{"s":"MUT 4-OHT","x":0.58,"y":0.541,"lo":0.496,"hi":0.586},{"s":"MUT 4-OHT","x":0.63,"y":0.548,"lo":0.503,"hi":0.593},{"s":"MUT 4-OHT","x":0.676,"y":0.546,"lo":0.501,"hi":0.591},{"s":"MUT 4-OHT","x":0.72,"y":0.535,"lo":0.49,"hi":0.58},{"s":"MUT 4-OHT","x":0.775,"y":0.521,"lo":0.476,"hi":0.566},{"s":"MUT 4-OHT","x":0.82,"y":0.527,"lo":0.482,"hi":0.572},{"s":"MUT 4-OHT","x":0.87,"y":0.524,"lo":0.479,"hi":0.569},{"s":"MUT 4-OHT","x":0.922,"y":0.528,"lo":0.483,"hi":0.573},{"s":"MUT 4-OHT","x":0.97,"y":0.525,"lo":0.48,"hi":0.57},{"s":"MUT 4-OHT","x":1.02,"y":0.532,"lo":0.487,"hi":0.577},{"s":"MUT 4-OHT","x":1.095,"y":0.539,"lo":0.494,"hi":0.584},{"s":"MUT 4-OHT","x":1.15,"y":0.53,"lo":0.485,"hi":0.575},{"s":"MUT 4-OHT","x":1.194,"y":0.525,"lo":0.48,"hi":0.57},{"s":"MUT 4-OHT","x":1.25,"y":0.517,"lo":0.472,"hi":0.562},{"s":"MUT 4-OHT","x":1.3,"y":0.512,"lo":0.467,"hi":0.557},{"s":"MUT 4-OHT","x":1.342,"y":0.507,"lo":0.462,"hi":0.552},{"s":"MUT 4-OHT","x":1.4,"y":0.504,"lo":0.459,"hi":0.549},{"s":"MUT 4-OHT","x":1.45,"y":0.506,"lo":0.461,"hi":0.551},{"s":"MUT 4-OHT","x":1.5,"y":0.505,"lo":0.46,"hi":0.55},
    {"s":"WT 4-OHT","x":-1.5,"y":0.412,"lo":0.382,"hi":0.442},{"s":"WT 4-OHT","x":-1.42,"y":0.396,"lo":0.366,"hi":0.426},{"s":"WT 4-OHT","x":-1.35,"y":0.382,"lo":0.352,"hi":0.412},{"s":"WT 4-OHT","x":-1.3,"y":0.392,"lo":0.362,"hi":0.422},{"s":"WT 4-OHT","x":-1.25,"y":0.403,"lo":0.373,"hi":0.433},{"s":"WT 4-OHT","x":-1.18,"y":0.405,"lo":0.375,"hi":0.435},{"s":"WT 4-OHT","x":-1.12,"y":0.407,"lo":0.377,"hi":0.437},{"s":"WT 4-OHT","x":-1.05,"y":0.398,"lo":0.368,"hi":0.428},{"s":"WT 4-OHT","x":-1.0,"y":0.394,"lo":0.364,"hi":0.424},{"s":"WT 4-OHT","x":-0.94,"y":0.403,"lo":0.373,"hi":0.433},{"s":"WT 4-OHT","x":-0.88,"y":0.411,"lo":0.381,"hi":0.441},{"s":"WT 4-OHT","x":-0.82,"y":0.413,"lo":0.383,"hi":0.443},{"s":"WT 4-OHT","x":-0.76,"y":0.421,"lo":0.391,"hi":0.451},{"s":"WT 4-OHT","x":-0.7,"y":0.418,"lo":0.388,"hi":0.448},{"s":"WT 4-OHT","x":-0.64,"y":0.426,"lo":0.396,"hi":0.456},{"s":"WT 4-OHT","x":-0.58,"y":0.434,"lo":0.404,"hi":0.464},{"s":"WT 4-OHT","x":-0.52,"y":0.438,"lo":0.408,"hi":0.468},{"s":"WT 4-OHT","x":-0.46,"y":0.437,"lo":0.407,"hi":0.467},{"s":"WT 4-OHT","x":-0.41,"y":0.428,"lo":0.398,"hi":0.458},{"s":"WT 4-OHT","x":-0.36,"y":0.425,"lo":0.395,"hi":0.455},{"s":"WT 4-OHT","x":-0.31,"y":0.431,"lo":0.401,"hi":0.461},{"s":"WT 4-OHT","x":-0.25,"y":0.43,"lo":0.4,"hi":0.46},{"s":"WT 4-OHT","x":-0.2,"y":0.424,"lo":0.395,"hi":0.453},{"s":"WT 4-OHT","x":-0.16,"y":0.398,"lo":0.37,"hi":0.426},{"s":"WT 4-OHT","x":-0.125,"y":0.328,"lo":0.303,"hi":0.353},{"s":"WT 4-OHT","x":-0.09,"y":0.243,"lo":0.221,"hi":0.265},{"s":"WT 4-OHT","x":-0.06,"y":0.2,"lo":0.18,"hi":0.22},{"s":"WT 4-OHT","x":-0.035,"y":0.182,"lo":0.162,"hi":0.202},{"s":"WT 4-OHT","x":-0.01,"y":0.19,"lo":0.17,"hi":0.21},{"s":"WT 4-OHT","x":0.01,"y":0.213,"lo":0.193,"hi":0.233},{"s":"WT 4-OHT","x":0.035,"y":0.27,"lo":0.248,"hi":0.292},{"s":"WT 4-OHT","x":0.06,"y":0.33,"lo":0.305,"hi":0.355},{"s":"WT 4-OHT","x":0.085,"y":0.385,"lo":0.355,"hi":0.415},{"s":"WT 4-OHT","x":0.11,"y":0.427,"lo":0.392,"hi":0.462},{"s":"WT 4-OHT","x":0.15,"y":0.475,"lo":0.435,"hi":0.515},{"s":"WT 4-OHT","x":0.19,"y":0.51,"lo":0.465,"hi":0.555},{"s":"WT 4-OHT","x":0.24,"y":0.545,"lo":0.495,"hi":0.595},{"s":"WT 4-OHT","x":0.28,"y":0.563,"lo":0.513,"hi":0.613},{"s":"WT 4-OHT","x":0.33,"y":0.574,"lo":0.524,"hi":0.624},{"s":"WT 4-OHT","x":0.38,"y":0.588,"lo":0.538,"hi":0.638},{"s":"WT 4-OHT","x":0.43,"y":0.615,"lo":0.56,"hi":0.67},{"s":"WT 4-OHT","x":0.48,"y":0.642,"lo":0.587,"hi":0.697},{"s":"WT 4-OHT","x":0.52,"y":0.664,"lo":0.609,"hi":0.719},{"s":"WT 4-OHT","x":0.55,"y":0.681,"lo":0.626,"hi":0.736},{"s":"WT 4-OHT","x":0.58,"y":0.672,"lo":0.617,"hi":0.727},{"s":"WT 4-OHT","x":0.61,"y":0.676,"lo":0.621,"hi":0.731},{"s":"WT 4-OHT","x":0.65,"y":0.667,"lo":0.612,"hi":0.722},{"s":"WT 4-OHT","x":0.69,"y":0.66,"lo":0.605,"hi":0.715},{"s":"WT 4-OHT","x":0.73,"y":0.648,"lo":0.593,"hi":0.703},{"s":"WT 4-OHT","x":0.78,"y":0.642,"lo":0.587,"hi":0.697},{"s":"WT 4-OHT","x":0.83,"y":0.638,"lo":0.583,"hi":0.693},{"s":"WT 4-OHT","x":0.88,"y":0.635,"lo":0.58,"hi":0.69},{"s":"WT 4-OHT","x":0.92,"y":0.631,"lo":0.576,"hi":0.686},{"s":"WT 4-OHT","x":0.97,"y":0.636,"lo":0.581,"hi":0.691},{"s":"WT 4-OHT","x":1.02,"y":0.642,"lo":0.587,"hi":0.697},{"s":"WT 4-OHT","x":1.07,"y":0.636,"lo":0.581,"hi":0.691},{"s":"WT 4-OHT","x":1.14,"y":0.631,"lo":0.576,"hi":0.686},{"s":"WT 4-OHT","x":1.18,"y":0.62,"lo":0.565,"hi":0.675},{"s":"WT 4-OHT","x":1.22,"y":0.609,"lo":0.554,"hi":0.664},{"s":"WT 4-OHT","x":1.27,"y":0.611,"lo":0.556,"hi":0.666},{"s":"WT 4-OHT","x":1.32,"y":0.616,"lo":0.561,"hi":0.671},{"s":"WT 4-OHT","x":1.36,"y":0.608,"lo":0.553,"hi":0.663},{"s":"WT 4-OHT","x":1.4,"y":0.602,"lo":0.547,"hi":0.657},{"s":"WT 4-OHT","x":1.45,"y":0.598,"lo":0.543,"hi":0.653},{"s":"WT 4-OHT","x":1.5,"y":0.593,"lo":0.538,"hi":0.648}
  ],
  "legend": [
    {"block":"wild type","kind":"header","label":"EXOSC10\nwild type"},
    {"block":"mutant","kind":"header","label":"EXOSC10\nmutant"},
    {"block":"wild type","kind":"item","cond":"EtOH","series":"WT EtOH"},
    {"block":"wild type","kind":"item","cond":"4-OHT","series":"WT 4-OHT"},
    {"block":"mutant","kind":"item","cond":"EtOH","series":"MUT EtOH"},
    {"block":"mutant","kind":"item","cond":"4-OHT","series":"MUT 4-OHT"},
    {"block":"Input","kind":"input","cond":"Input","series":"Input"}
  ]
},
"bounds": "flush",
"spacing": 168,
"resolve": {"scale": {"x": "independent", "y": "independent", "color": "independent", "fill": "independent", "stroke": "independent"}, "legend": {"color": "independent"}},
"hconcat": [
  {
    "width": 418, "height": 381,
    "title": {"text": "-log₁₀(p-value)", "anchor": "end", "frame": "group", "dx": -9, "fontSize": 21, "offset": 0},
    "layer": [
      {
        "data": {"name": "heatL"},
        "mark": {"type": "rect", "strokeWidth": 0},
        "encoding": {
          "x": {"field": "start", "type": "quantitative", "scale": {"domain": [-1.609, 1.5], "nice": false, "zero": false},
            "axis": {"values": [-1.5, 0, 1.5], "labelExpr": "datum.value == 0 ? 'TSS' : (datum.value > 0 ? '1.5 kb' : '-1.5')", "title": "Genomic Region (5'→3')", "titleX": 216.5}},
          "x2": {"field": "end"},
          "y": {"datum": 25.49, "type": "quantitative", "scale": {"domain": [-0.884, 25], "nice": false, "zero": false},
            "axis": {"values": [0, 12.5, 25], "labelExpr": "'' + datum.value", "title": "Total RNAPII ChIP-RX (RPM)"}},
          "y2": {"datum": 24.54},
          "color": {"field": "p", "type": "quantitative", "scale": {"scheme": "viridis", "reverse": true, "domain": [12, 89]},
            "legend": {"orient": "none", "legendX": 430, "legendY": 12.5, "direction": "vertical", "title": null, "values": [20, 80], "format": "d", "gradientLength": 85, "gradientThickness": 16, "labelOffset": 3, "labelBaseline": "middle"}}
        }
      },
      {
        "data": {"values": [{}]},
        "mark": {"type": "rect", "filled": false, "stroke": "#000", "strokeWidth": 1},
        "encoding": {
          "x": {"datum": -1.57, "type": "quantitative", "scale": {"domain": [-1.609, 1.5], "nice": false, "zero": false},
            "axis": {"values": [-1.5, 0, 1.5], "labelExpr": "datum.value == 0 ? 'TSS' : (datum.value > 0 ? '1.5 kb' : '-1.5')", "title": "Genomic Region (5'→3')", "titleX": 216.5}},
          "x2": {"datum": 1.43},
          "y": {"datum": 25.49, "type": "quantitative", "scale": {"domain": [-0.884, 25], "nice": false, "zero": false},
            "axis": {"values": [0, 12.5, 25], "labelExpr": "'' + datum.value", "title": "Total RNAPII ChIP-RX (RPM)"}},
          "y2": {"datum": 24.54}
        }
      },
      {
        "data": {"values": [{}]},
        "mark": {"type": "rule", "color": "#bdbdbd", "strokeWidth": 2, "strokeDash": [8, 5]},
        "encoding": {
          "x": {"datum": 0, "type": "quantitative", "scale": {"domain": [-1.609, 1.5], "nice": false, "zero": false},
            "axis": {"values": [-1.5, 0, 1.5], "labelExpr": "datum.value == 0 ? 'TSS' : (datum.value > 0 ? '1.5 kb' : '-1.5')", "title": "Genomic Region (5'→3')", "titleX": 216.5}},
          "y": {"datum": 23.67, "type": "quantitative", "scale": {"domain": [-0.884, 25], "nice": false, "zero": false},
            "axis": {"values": [0, 12.5, 25], "labelExpr": "'' + datum.value", "title": "Total RNAPII ChIP-RX (RPM)"}},
          "y2": {"datum": -0.884}
        }
      },
      {
        "data": {"name": "tss"},
        "mark": {"type": "line", "strokeWidth": 3, "interpolate": "monotone"},
        "encoding": {
          "x": {"field": "x", "type": "quantitative", "scale": {"domain": [-1.609, 1.5], "nice": false, "zero": false},
            "axis": {"values": [-1.5, 0, 1.5], "labelExpr": "datum.value == 0 ? 'TSS' : (datum.value > 0 ? '1.5 kb' : '-1.5')", "title": "Genomic Region (5'→3')", "titleX": 216.5}},
          "y": {"field": "y", "type": "quantitative", "scale": {"domain": [-0.884, 25], "nice": false, "zero": false},
            "axis": {"values": [0, 12.5, 25], "labelExpr": "'' + datum.value", "title": "Total RNAPII ChIP-RX (RPM)"}},
          "stroke": {"field": "s", "type": "nominal", "scale": {"domain": ["Input", "MUT EtOH", "WT EtOH", "MUT 4-OHT", "WT 4-OHT"], "range": ["#000000", "#92c5de", "#f4a582", "#0571b0", "#ca0020"]}, "legend": null}
        }
      }
    ]
  },
  {
    "width": 422, "height": 381,
    "title": {"text": "-log₁₀(p-value)", "anchor": "end", "frame": "group", "dx": -9, "fontSize": 21, "offset": 0},
    "layer": [
      {
        "data": {"name": "heatR"},
        "mark": {"type": "rect", "strokeWidth": 0},
        "encoding": {
          "x": {"field": "start", "type": "quantitative", "scale": {"domain": [-1.62, 1.5], "nice": false, "zero": false},
            "axis": {"values": [-1.5, 0, 1.5], "labelExpr": "datum.value == 0 ? 'TES' : (datum.value > 0 ? '1.5 kb' : '-1.5')", "title": "Genomic Region (5'→3')", "titleX": 219}},
          "x2": {"field": "end"},
          "y": {"datum": 0.8133, "type": "quantitative", "scale": {"domain": [-0.0171, 0.8], "nice": false, "zero": false},
            "axis": {"values": [0, 0.4, 0.8], "labelExpr": "'' + datum.value", "title": "Total RNAPII ChIP-RX (RPM)"}},
          "y2": {"datum": 0.7833},
          "color": {"field": "p", "type": "quantitative", "scale": {"scheme": "viridis", "reverse": true, "domain": [1.1, 9]},
            "legend": {"orient": "none", "legendX": 436, "legendY": 12.5, "direction": "vertical", "title": null, "values": [2, 8], "format": "d", "gradientLength": 86, "gradientThickness": 16, "labelOffset": 3, "labelBaseline": "middle"}}
        }
      },
      {
        "data": {"values": [{}]},
        "mark": {"type": "rect", "filled": false, "stroke": "#000", "strokeWidth": 1},
        "encoding": {
          "x": {"datum": -1.57, "type": "quantitative", "scale": {"domain": [-1.62, 1.5], "nice": false, "zero": false},
            "axis": {"values": [-1.5, 0, 1.5], "labelExpr": "datum.value == 0 ? 'TES' : (datum.value > 0 ? '1.5 kb' : '-1.5')", "title": "Genomic Region (5'→3')", "titleX": 219}},
          "x2": {"datum": 1.433},
          "y": {"datum": 0.8133, "type": "quantitative", "scale": {"domain": [-0.0171, 0.8], "nice": false, "zero": false},
            "axis": {"values": [0, 0.4, 0.8], "labelExpr": "'' + datum.value", "title": "Total RNAPII ChIP-RX (RPM)"}},
          "y2": {"datum": 0.7833}
        }
      },
      {
        "data": {"values": [{}]},
        "mark": {"type": "rule", "color": "#bdbdbd", "strokeWidth": 2, "strokeDash": [8, 5]},
        "encoding": {
          "x": {"datum": 0, "type": "quantitative", "scale": {"domain": [-1.62, 1.5], "nice": false, "zero": false},
            "axis": {"values": [-1.5, 0, 1.5], "labelExpr": "datum.value == 0 ? 'TES' : (datum.value > 0 ? '1.5 kb' : '-1.5')", "title": "Genomic Region (5'→3')", "titleX": 219}},
          "y": {"datum": 0.728, "type": "quantitative", "scale": {"domain": [-0.0171, 0.8], "nice": false, "zero": false},
            "axis": {"values": [0, 0.4, 0.8], "labelExpr": "'' + datum.value", "title": "Total RNAPII ChIP-RX (RPM)"}},
          "y2": {"datum": -0.0171}
        }
      },
      {
        "data": {"name": "tes"},
        "mark": {"type": "area", "fillOpacity": 0.3, "interpolate": "linear"},
        "encoding": {
          "x": {"field": "x", "type": "quantitative", "scale": {"domain": [-1.62, 1.5], "nice": false, "zero": false},
            "axis": {"values": [-1.5, 0, 1.5], "labelExpr": "datum.value == 0 ? 'TES' : (datum.value > 0 ? '1.5 kb' : '-1.5')", "title": "Genomic Region (5'→3')", "titleX": 219}},
          "y": {"field": "lo", "type": "quantitative", "scale": {"domain": [-0.0171, 0.8], "nice": false, "zero": false},
            "axis": {"values": [0, 0.4, 0.8], "labelExpr": "'' + datum.value", "title": "Total RNAPII ChIP-RX (RPM)"}},
          "y2": {"field": "hi"},
          "fill": {"field": "s", "type": "nominal", "scale": {"domain": ["Input", "MUT EtOH", "WT EtOH", "MUT 4-OHT", "WT 4-OHT"], "range": ["#000000", "#92c5de", "#f4a582", "#0571b0", "#ca0020"]}, "legend": null}
        }
      },
      {
        "data": {"name": "tes"},
        "mark": {"type": "line", "strokeWidth": 2.2, "interpolate": "linear"},
        "encoding": {
          "x": {"field": "x", "type": "quantitative", "scale": {"domain": [-1.62, 1.5], "nice": false, "zero": false},
            "axis": {"values": [-1.5, 0, 1.5], "labelExpr": "datum.value == 0 ? 'TES' : (datum.value > 0 ? '1.5 kb' : '-1.5')", "title": "Genomic Region (5'→3')", "titleX": 219}},
          "y": {"field": "y", "type": "quantitative", "scale": {"domain": [-0.0171, 0.8], "nice": false, "zero": false},
            "axis": {"values": [0, 0.4, 0.8], "labelExpr": "'' + datum.value", "title": "Total RNAPII ChIP-RX (RPM)"}},
          "stroke": {"field": "s", "type": "nominal", "scale": {"domain": ["Input", "MUT EtOH", "WT EtOH", "MUT 4-OHT", "WT 4-OHT"], "range": ["#000000", "#92c5de", "#f4a582", "#0571b0", "#ca0020"]}, "legend": null}
        }
      }
    ]
  },
  {
    "width": 167, "height": 381,
    "data": {"name": "legend"},
    "resolve": {"scale": {"x": "independent"}},
    "layer": [
      {
        "transform": [{"filter": "datum.kind === 'header'"}],
        "mark": {"type": "rule", "color": "#000", "strokeWidth": 2.5, "yOffset": -20.3},
        "encoding": {
          "x": {"datum": 0, "type": "quantitative", "scale": {"domain": [0, 1], "range": [-60, 167]}, "axis": null},
          "x2": {"datum": 1},
          "y": {"field": "block", "type": "nominal", "scale": {"type": "point", "domain": ["wild type", "mutant", "Input"], "range": [86.5, 356.5], "padding": 0}, "axis": null}
        }
      },
      {
        "transform": [{"filter": "datum.kind === 'header'"}],
        "mark": {"type": "text", "align": "center", "baseline": "middle", "fontSize": 26, "lineBreak": "\n", "lineHeight": 27, "yOffset": -63},
        "encoding": {
          "x": {"datum": 0.5, "type": "quantitative", "scale": {"domain": [0, 1], "range": [-60, 167]}, "axis": null},
          "y": {"field": "block", "type": "nominal", "scale": {"type": "point", "domain": ["wild type", "mutant", "Input"], "range": [86.5, 356.5], "padding": 0}, "axis": null},
          "text": {"field": "label"}
        }
      },
      {
        "transform": [{"filter": "datum.kind === 'item'"}],
        "mark": {"type": "point", "shape": "M-0.774,-1L0.774,-1L0.774,1L-0.774,1Z", "size": 961, "filled": true, "opacity": 1, "fillOpacity": 0.32, "strokeWidth": 0},
        "encoding": {
          "x": {"field": "cond", "type": "nominal", "bandPosition": 0.125, "scale": {"type": "band", "domain": ["EtOH", "4-OHT"], "range": [-60, 167], "paddingInner": 0, "paddingOuter": 0}, "axis": null},
          "y": {"field": "block", "type": "nominal", "scale": {"type": "point", "domain": ["wild type", "mutant", "Input"], "range": [86.5, 356.5], "padding": 0}, "axis": null},
          "fill": {"field": "series", "type": "nominal", "scale": {"domain": ["Input", "MUT EtOH", "WT EtOH", "MUT 4-OHT", "WT 4-OHT"], "range": ["#000000", "#92c5de", "#f4a582", "#0571b0", "#ca0020"]}, "legend": null}
        }
      },
      {
        "transform": [{"filter": "datum.kind === 'item'"}],
        "mark": {"type": "point", "shape": "M-0.774,-0.32L0.774,-0.32L0.774,0.32L-0.774,0.32Z", "size": 961, "filled": true, "opacity": 1, "fillOpacity": 1, "strokeWidth": 0},
        "encoding": {
          "x": {"field": "cond", "type": "nominal", "bandPosition": 0.125, "scale": {"type": "band", "domain": ["EtOH", "4-OHT"], "range": [-60, 167], "paddingInner": 0, "paddingOuter": 0}, "axis": null},
          "y": {"field": "block", "type": "nominal", "scale": {"type": "point", "domain": ["wild type", "mutant", "Input"], "range": [86.5, 356.5], "padding": 0}, "axis": null},
          "fill": {"field": "series", "type": "nominal", "scale": {"domain": ["Input", "MUT EtOH", "WT EtOH", "MUT 4-OHT", "WT 4-OHT"], "range": ["#000000", "#92c5de", "#f4a582", "#0571b0", "#ca0020"]}, "legend": null}
        }
      },
      {
        "transform": [{"filter": "datum.kind === 'item'"}],
        "mark": {"type": "text", "align": "left", "baseline": "middle", "fontSize": 26},
        "encoding": {
          "x": {"field": "cond", "type": "nominal", "bandPosition": 0.284, "scale": {"type": "band", "domain": ["EtOH", "4-OHT"], "range": [-60, 167], "paddingInner": 0, "paddingOuter": 0}, "axis": null},
          "y": {"field": "block", "type": "nominal", "scale": {"type": "point", "domain": ["wild type", "mutant", "Input"], "range": [86.5, 356.5], "padding": 0}, "axis": null},
          "text": {"field": "cond"}
        }
      },
      {
        "transform": [{"filter": "datum.kind === 'input'"}],
        "mark": {"type": "point", "shape": "M-0.774,-1L0.774,-1L0.774,1L-0.774,1Z", "size": 961, "filled": true, "opacity": 1, "fillOpacity": 0.32, "strokeWidth": 0, "yOffset": -63},
        "encoding": {
          "x": {"datum": 0.361, "type": "quantitative", "scale": {"domain": [0, 1], "range": [-60, 167]}, "axis": null},
          "y": {"field": "block", "type": "nominal", "scale": {"type": "point", "domain": ["wild type", "mutant", "Input"], "range": [86.5, 356.5], "padding": 0}, "axis": null},
          "fill": {"field": "series", "type": "nominal", "scale": {"domain": ["Input", "MUT EtOH", "WT EtOH", "MUT 4-OHT", "WT 4-OHT"], "range": ["#000000", "#92c5de", "#f4a582", "#0571b0", "#ca0020"]}, "legend": null}
        }
      },
      {
        "transform": [{"filter": "datum.kind === 'input'"}],
        "mark": {"type": "point", "shape": "M-0.774,-0.32L0.774,-0.32L0.774,0.32L-0.774,0.32Z", "size": 961, "filled": true, "opacity": 1, "fillOpacity": 1, "strokeWidth": 0, "yOffset": -63},
        "encoding": {
          "x": {"datum": 0.361, "type": "quantitative", "scale": {"domain": [0, 1], "range": [-60, 167]}, "axis": null},
          "y": {"field": "block", "type": "nominal", "scale": {"type": "point", "domain": ["wild type", "mutant", "Input"], "range": [86.5, 356.5], "padding": 0}, "axis": null},
          "fill": {"field": "series", "type": "nominal", "scale": {"domain": ["Input", "MUT EtOH", "WT EtOH", "MUT 4-OHT", "WT 4-OHT"], "range": ["#000000", "#92c5de", "#f4a582", "#0571b0", "#ca0020"]}, "legend": null}
        }
      },
      {
        "transform": [{"filter": "datum.kind === 'input'"}],
        "mark": {"type": "text", "align": "left", "baseline": "middle", "fontSize": 26, "yOffset": -63},
        "encoding": {
          "x": {"datum": 0.4405, "type": "quantitative", "scale": {"domain": [0, 1], "range": [-60, 167]}, "axis": null},
          "y": {"field": "block", "type": "nominal", "scale": {"type": "point", "domain": ["wild type", "mutant", "Input"], "range": [86.5, 356.5], "padding": 0}, "axis": null},
          "text": {"field": "cond"}
        }
      }
    ]
  }
]
}
